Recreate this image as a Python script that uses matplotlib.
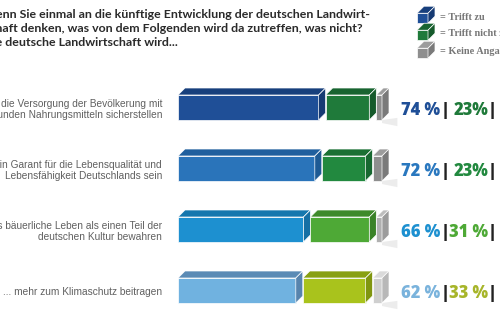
import matplotlib.pyplot as plt
from matplotlib.patches import Polygon

# data
items = ["... die Versorgung der Bevölkerung mit\ngesunden Nahrungsmitteln sicherstellen",
         "... ein Garant für die Lebensqualität und\nLebensfähigkeit Deutschlands sein",
         "... das bäuerliche Leben als einen Teil der\ndeutschen Kultur bewahren",
         "... mehr zum Klimaschutz beitragen"]
trifft_zu = [74, 72, 66, 62]
trifft_nicht_zu = [23, 23, 31, 33]
keine_angabe = [3, 5, 3, 5]
labels_zu = ["74 %", "72 %", "66 %", "62 %"]
labels_nicht = ["23%", "23%", "31 %", "33 %"]
legend_labels = ["= Trifft zu", "= Trifft nicht zu", "= Keine Angabe"]
title_lines = ["Wenn Sie einmal an die künftige Entwicklung der deutschen Landwirt-",
               "schaft denken, was von dem Folgenden wird da zutreffen, was nicht?",
               "Die deutsche Landwirtschaft wird..."]

# colours per row: (front, top, side)
blue = [("#1f4f97", "#173f7c", "#163a73"), ("#2a74ba", "#1f5f9e", "#1d5a94"),
        ("#1d90d0", "#1577ae", "#156fa4"), ("#70b2e0", "#5b8bb5", "#5784ad")]
green = [("#1f7a3a", "#186430", "#155a2b"), ("#22893f", "#1a7033", "#176830"),
         ("#4ea936", "#3e8a2a", "#3a8227"), ("#a9c31c", "#88a012", "#809610")]
gray = [("#8e8e8e", "#9c9c9c", "#7a7a7a"), ("#8e8e8e", "#9c9c9c", "#7a7a7a"),
        ("#b0b0b0", "#bdbdbd", "#9c9c9c"), ("#cfcfcf", "#dadada", "#b8b8b8")]
text_zu = ["#1f4f97", "#2a78bf", "#1d90d0", "#7ab3dc"]
text_nicht = ["#1f7a3a", "#22893f", "#4ea936", "#a7b52a"]

W, H = 500, 330
PX = 1.9        # pixels per percent
X0 = 178        # pixel of 0 %
ROW = 61        # pixels between rows
Y0 = 107.5      # pixel of first row centre

fig = plt.figure(figsize=(5, 3.3), dpi=100)
ax = fig.add_axes([0, 0, 1, 1])
ax.set_xlim(-X0 / PX, (W - X0) / PX)
ax.set_ylim((H - Y0) / ROW, -Y0 / ROW)
ax.axis("off")

dx = 7 / PX
dy = 7 / ROW
hh = 25 / ROW / 2


def box(x, y, w, cols, h=hh):
    front, top, side = cols
    ax.add_patch(Polygon([(x, y - h), (x + w, y - h), (x + w, y + h), (x, y + h)],
                         closed=True, fc=front, ec="white", lw=0.5))
    ax.add_patch(Polygon([(x, y - h), (x + dx, y - h - dy), (x + w + dx, y - h - dy), (x + w, y - h)],
                         closed=True, fc=top, ec="white", lw=0.5))
    ax.add_patch(Polygon([(x + w, y - h), (x + w + dx, y - h - dy), (x + w + dx, y + h - dy), (x + w, y + h)],
                         closed=True, fc=side, ec="white", lw=0.5))


for i in range(len(items)):
    x = 0
    for vals, cols in ((trifft_zu, blue), (trifft_nicht_zu, green), (keine_angabe, gray)):
        box(x, i, vals[i], cols[i])
        x += vals[i] + dx
    # floor shadow behind the grey block
    xs = x - dx
    ax.add_patch(Polygon([(xs, i + hh), (xs + 2.2 * dx, i + hh - 0.3 * dy), (xs + 2.2 * dx, i + hh + 0.1),
                          (xs, i + hh + 0.05)], closed=True, fc="#ececec", ec="none", zorder=0))

    ax.text(-8.4, i + 0.03, items[i], ha="right", va="center", fontsize=7.3, color="#606060",
            family="Liberation Sans", linespacing=1.12)
    yt = i + 0.05
    ax.text(117.4, yt, labels_zu[i], ha="left", va="center", fontsize=11.9, fontweight="heavy",
            color=text_zu[i], family="Open Sans")
    ax.text(140.8, yt, "|", ha="center", va="center", fontsize=13, fontweight="heavy",
            color="#222222", family="Open Sans")
    ax.text(163.4, yt, labels_nicht[i], ha="right", va="center", fontsize=11.9, fontweight="heavy",
            color=text_nicht[i], family="Open Sans")
    ax.text(165.6, yt, "|", ha="center", va="center", fontsize=13, fontweight="heavy",
            color="#222222", family="Open Sans")

# title, cut off at the left edge as in the source
title_right = [370, 363, 178]
title_y = [15, 29, 42]
for line, xr, yp in zip(title_lines, title_right, title_y):
    fig.text(xr / W, 1 - yp / H, line, ha="right", va="center", fontsize=8.9,
             fontweight="bold", color="#2a2a2a", family="Lato")

# legend cubes
leg_cols = [blue[0], green[0], gray[0]]
leg_y = [17, 34, 52]
for lab, cols, yp in zip(legend_labels, leg_cols, leg_y):
    xc = (417 - X0) / PX
    yc = (yp - Y0) / ROW
    box(xc, yc + 0.02, 11 / PX, cols, h=5 / ROW)
    ax.text((440 - X0) / PX, yc, lab, ha="left", va="center", fontsize=7.4,
            fontweight="bold", color="#777777", family="Liberation Serif")

fig.savefig("out.png", dpi=100)
